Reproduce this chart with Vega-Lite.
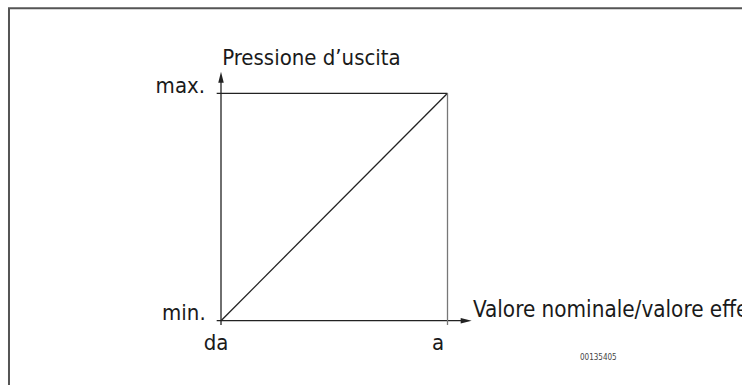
{
  "$schema": "https://vega.github.io/schema/vega-lite/v6.json",
  "width": 742,
  "height": 385,
  "autosize": {"type": "none"},
  "padding": 0,
  "background": "white",
  "config": {"view": {"stroke": null}},
  "datasets": {
    "frame": [{"x": -0.936, "y": 1.3738, "x2": 2.6, "y2": -0.5}],
    "lines": [
      {"part": "axis", "x": -0.019, "x2": 1.0826, "y": 0, "y2": 0},
      {"part": "axis", "x": 0, "x2": 0, "y": -0.019, "y2": 1.0708},
      {"part": "axis", "x": -0.019, "x2": 1, "y": 1, "y2": 1},
      {"part": "axis", "x": 0, "x2": 0.999, "y": 0, "y2": 0.999},
      {"part": "guide", "x": 1, "x2": 1, "y": -0.019, "y2": 1}
    ],
    "arrows": [
      {"dir": "up", "x": 0, "y": 1.0708},
      {"dir": "right", "x": 1.0826, "y": 0}
    ],
    "labels": [
      {"text": "Pressione d’uscita", "x": 0.005, "y": 1.1244, "align": "left"},
      {"text": "max.", "x": -0.0706, "y": 1.0, "align": "right"},
      {"text": "min.", "x": -0.0675, "y": 0.003, "align": "right"},
      {"text": "da", "x": -0.022, "y": -0.1288, "align": "center"},
      {"text": "a", "x": 0.958, "y": -0.1288, "align": "center"}
    ],
    "xtitle": [{"text": "Valore nominale/valore effettivo", "x": 1.1126, "y": 0.0176}],
    "code": [{"text": "00135405", "x": 1.585, "y": -0.1627}]
  },
  "layer": [
    {
      "data": {"name": "frame"},
      "mark": {"type": "rect", "fill": null, "stroke": "#555555", "strokeWidth": 2},
      "encoding": {
        "x": {"field": "x", "type": "quantitative", "scale": {"domain": [-0.9757, 2.3002], "nice": false, "zero": false}, "axis": null},
        "x2": {"field": "x2"},
        "y": {"field": "y", "type": "quantitative", "scale": {"domain": [-0.2828, 1.4103], "nice": false, "zero": false}, "axis": null},
        "y2": {"field": "y2"}
      }
    },
    {
      "data": {"name": "lines"},
      "mark": {"type": "rule", "strokeWidth": 1.3},
      "encoding": {
        "x": {"field": "x", "type": "quantitative"},
        "x2": {"field": "x2"},
        "y": {"field": "y", "type": "quantitative"},
        "y2": {"field": "y2"},
        "color": {"field": "part", "type": "nominal", "scale": {"domain": ["axis", "guide"], "range": ["#222222", "#777777"]}, "legend": null}
      }
    },
    {
      "data": {"name": "arrows"},
      "mark": {"type": "point", "filled": true, "size": 121, "color": "#222222", "opacity": 1},
      "encoding": {
        "x": {"field": "x", "type": "quantitative"},
        "y": {"field": "y", "type": "quantitative"},
        "shape": {"field": "dir", "type": "nominal", "scale": {"domain": ["up", "right"], "range": ["M0,-1L0.5,1L-0.5,1Z", "M1,0L-1,-0.5L-1,0.5Z"]}, "legend": null}
      }
    },
    {
      "data": {"name": "labels"},
      "transform": [{"filter": "datum.align === 'left'"}],
      "mark": {"type": "text", "font": "DejaVu Sans Condensed", "fontSize": 22, "baseline": "alphabetic", "align": "left", "color": "#1a1a1a"},
      "encoding": {
        "x": {"field": "x", "type": "quantitative"},
        "y": {"field": "y", "type": "quantitative"},
        "text": {"field": "text"}
      }
    },
    {
      "data": {"name": "labels"},
      "transform": [{"filter": "datum.align === 'right'"}],
      "mark": {"type": "text", "font": "DejaVu Sans Condensed", "fontSize": 22, "baseline": "alphabetic", "align": "right", "color": "#1a1a1a"},
      "encoding": {
        "x": {"field": "x", "type": "quantitative"},
        "y": {"field": "y", "type": "quantitative"},
        "text": {"field": "text"}
      }
    },
    {
      "data": {"name": "labels"},
      "transform": [{"filter": "datum.align === 'center'"}],
      "mark": {"type": "text", "font": "DejaVu Sans Condensed", "fontSize": 22, "baseline": "alphabetic", "align": "center", "color": "#1a1a1a"},
      "encoding": {
        "x": {"field": "x", "type": "quantitative"},
        "y": {"field": "y", "type": "quantitative"},
        "text": {"field": "text"}
      }
    },
    {
      "data": {"name": "xtitle"},
      "mark": {"type": "text", "font": "DejaVu Sans Condensed", "fontSize": 22.3, "baseline": "alphabetic", "align": "left", "color": "#1a1a1a"},
      "encoding": {
        "x": {"field": "x", "type": "quantitative"},
        "y": {"field": "y", "type": "quantitative"},
        "text": {"field": "text"}
      }
    },
    {
      "data": {"name": "code"},
      "mark": {"type": "text", "font": "DejaVu Sans Condensed", "fontSize": 8, "baseline": "middle", "align": "left", "color": "#444444"},
      "encoding": {
        "x": {"field": "x", "type": "quantitative"},
        "y": {"field": "y", "type": "quantitative"},
        "text": {"field": "text"}
      }
    }
  ]
}
